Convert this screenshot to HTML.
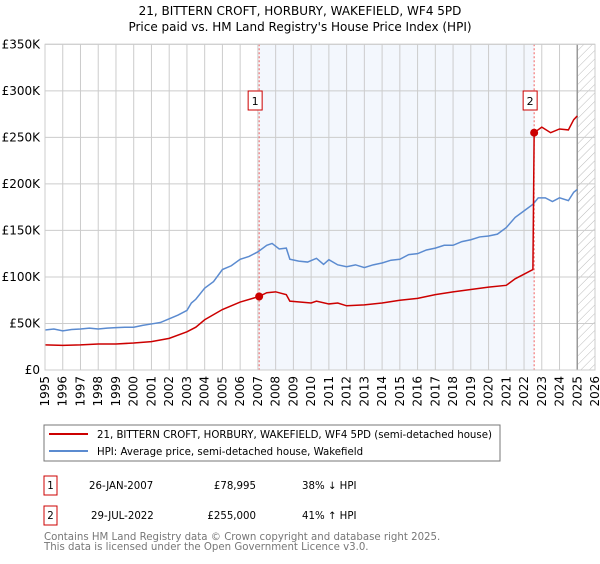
<!DOCTYPE html>
<html><head><meta charset="utf-8"><style>
body{margin:0;background:#fff;font-family:"DejaVu Sans","Liberation Sans",sans-serif;}
svg text{font-family:"DejaVu Sans","Liberation Sans",sans-serif;}
</style></head><body>
<svg id="c" width="600" height="560" xmlns="http://www.w3.org/2000/svg">
<defs><pattern id="hatch" width="6" height="6" patternUnits="userSpaceOnUse" patternTransform="rotate(45)"><line x1="0" y1="0" x2="0" y2="6" stroke="#bbb" stroke-width="1"/></pattern></defs>
<text x="300" y="15" text-anchor="middle" font-size="12">21, BITTERN CROFT, HORBURY, WAKEFIELD, WF4 5PD</text>
<text x="300" y="31" text-anchor="middle" font-size="12">Price paid vs. HM Land Registry's House Price Index (HPI)</text>
<g id="plot"></g>
<rect x="44" y="425" width="456" height="36" fill="#fff" stroke="#777"/>
<line x1="49" y1="434" x2="88" y2="434" stroke="#cc0000" stroke-width="2"/>
<text x="97" y="438" font-size="10.2">21, BITTERN CROFT, HORBURY, WAKEFIELD, WF4 5PD (semi-detached house)</text>
<line x1="49" y1="451" x2="88" y2="451" stroke="#5b8bd0" stroke-width="2"/>
<text x="97" y="455" font-size="10.2">HPI: Average price, semi-detached house, Wakefield</text>
<g font-size="10.2">
<rect x="44" y="476" width="13" height="19" fill="#fff" stroke="#cc0000"/>
<text x="50.5" y="489" text-anchor="middle">1</text>
<text x="89" y="489">26-JAN-2007</text>
<text x="256" y="489" text-anchor="end">£78,995</text>
<text x="302" y="489">38% ↓ HPI</text></g>
<g font-size="10.2">
<rect x="44" y="506" width="13" height="19" fill="#fff" stroke="#cc0000"/>
<text x="50.5" y="519" text-anchor="middle">2</text>
<text x="91" y="519">29-JUL-2022</text>
<text x="256" y="519" text-anchor="end">£255,000</text>
<text x="302" y="519">41% ↑ HPI</text></g>
<text x="44" y="540" font-size="10.2" fill="#777">Contains HM Land Registry data © Crown copyright and database right 2025.</text>
<text x="44" y="550" font-size="10.2" fill="#777">This data is licensed under the Open Government Licence v3.0.</text>
</svg>
<script>
const yearTicks=[1995,1996,1997,1998,1999,2000,2001,2002,2003,2004,2005,2006,2007,2008,2009,2010,2011,2012,2013,2014,2015,2016,2017,2018,2019,2020,2021,2022,2023,2024,2025,2026];
const priceTicks=[0,50,100,150,200,250,300,350];
const priceTickLabels=["£0","£50K","£100K","£150K","£200K","£250K","£300K","£350K"];
const hpiYears=[1995,1995.5,1996,1996.5,1997,1997.5,1998,1998.5,1999,1999.5,2000,2000.5,2001,2001.5,2002,2002.5,2003,2003.25,2003.5,2004,2004.5,2005,2005.5,2006,2006.5,2007,2007.5,2007.8,2008.2,2008.6,2008.8,2009.3,2009.8,2010.3,2010.7,2011,2011.5,2012,2012.5,2013,2013.5,2014,2014.5,2015,2015.5,2016,2016.5,2017,2017.5,2018,2018.5,2019,2019.5,2020,2020.5,2021,2021.5,2022,2022.5,2022.8,2023.2,2023.6,2024,2024.5,2024.8,2025];
const hpiValues=[43,44,42,43.5,44,45,44,45,45.5,46,46,48,49.5,51,55,59,64,72,76,88,95,108,112,119,122,127,134,136,130,131,119,117,116,120,113.5,118.5,113,111,113,110,113,115,118,119,124,125,129,131,134,134,138,140,143,144,146,153,164,171,178,185,185,181,185,182,191,194];
const priceYears=[1995,1996,1997,1998,1999,2000,2001,2002,2003,2003.5,2004,2005,2006,2007.07,2007.5,2008,2008.6,2008.8,2010,2010.3,2011,2011.5,2012,2013,2014,2015,2016,2017,2018,2019,2020,2021,2021.5,2022,2022.5,2022.57,2023,2023.5,2024,2024.5,2024.8,2025];
const priceValues=[27,26.5,27,28,28,29,30.5,34,41,46,54,65,73,79,83,84,81,74,72,74,71,72,69,70,72,75,77,81,84,86.5,89,91,98,103,108,255,261,255,259,258,269,273];
const saleYears=[2007.07,2022.57];
const saleValues=[78.995,255];
const saleLabels=["1","2"];

const NS="http://www.w3.org/2000/svg";
const L=45,R=595,T=44.3,B=370;
const x=y=>L+(y-1995)*(R-L)/31;
const yv=v=>B-v*(B-T)/350;
const g=document.getElementById('plot');
function mk(t,a){const e=document.createElementNS(NS,t);for(const k in a)e.setAttribute(k,a[k]);g.appendChild(e);return e;}
let e;
e=mk('rect',{x:x(saleYears[0]),y:T,width:x(saleYears[1])-x(saleYears[0]),height:B-T,fill:'#eef3fc',opacity:0.7});


e=mk('rect',{x:x(2025),y:T,width:R-x(2025),height:B-T,fill:'url(#hatch)'});


yearTicks.forEach(yr=>{
 e=mk('line',{x1:x(yr),x2:x(yr),y1:T,y2:B,stroke:'#ccc'});
 
 
 e=mk('text',{x:0,y:0,'font-size':12,'text-anchor':'end',transform:`translate(${x(yr)+4},${B+6}) rotate(-90)`});
 e.textContent=yr;
 
 
});
priceTicks.forEach((p,i)=>{
 e=mk('line',{x1:L,x2:R,y1:yv(p),y2:yv(p),stroke:'#ccc'});
 
 
 e=mk('text',{x:L-5,y:yv(p)+4,'font-size':12,'text-anchor':'end'});
 e.textContent=priceTickLabels[i];
 
 
});
e=mk('line',{x1:x(2025),x2:x(2025),y1:T,y2:B,stroke:'#999','stroke-width':1.5});


saleYears.forEach((s,i)=>{
 e=mk('line',{x1:x(s),x2:x(s),y1:T,y2:B,stroke:'#f06060','stroke-dasharray':'2,2'});
 
 
});
e=mk('polyline',{points:hpiYears.map((yr,i)=>x(yr)+','+yv(hpiValues[i])).join(' '),fill:'none',stroke:'#5b8bd0','stroke-width':1.5});


e=mk('polyline',{points:priceYears.map((yr,i)=>x(yr)+','+yv(priceValues[i])).join(' '),fill:'none',stroke:'#cc0000','stroke-width':1.5});


saleYears.forEach((s,i)=>{
 e=mk('circle',{cx:x(s),cy:yv(saleValues[i]),r:4,fill:'#cc0000'});
 
 
 e=mk('rect',{x:x(s)-11,y:91,width:14,height:19,fill:'#fff',stroke:'#cc0000'});
 
 
 e=mk('text',{x:x(s)-4,y:105,'font-size':11,'text-anchor':'middle'});
 e.textContent=saleLabels[i];
 
 
});
e=mk('rect',{x:L,y:T,width:R-L,height:B-T,fill:'none',stroke:'#ccc'});


</script>
</body></html>
